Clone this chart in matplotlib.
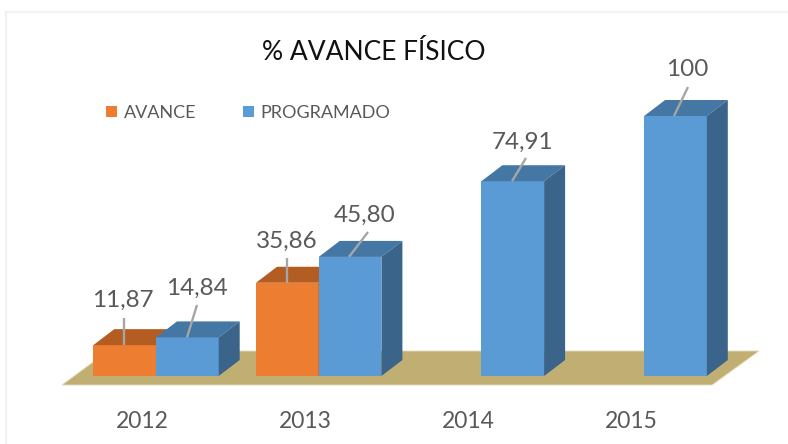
import matplotlib
matplotlib.use("Agg")
import matplotlib.pyplot as plt
from matplotlib.patches import Polygon, Patch
from matplotlib.lines import Line2D

years = ["2012", "2013", "2014", "2015"]
avance = [11.87, 35.86, None, None]
programado = [14.84, 45.80, 74.91, 100]
avance_labels = ["11,87", "35,86"]
programado_labels = ["14,84", "45,80", "74,91", "100"]

W, H = 788, 444
BASE_PX = 376
PX_PER_UNIT = 2.6
CAT_PX = 162.7
CAT0_PX = 156
BAR = 62.7 / CAT_PX
DX = 21 / CAT_PX
DY = 16 / PX_PER_UNIT

plt.rcParams["font.family"] = ["Lato", "DejaVu Sans"]
fig = plt.figure(figsize=(W / 100, H / 100), dpi=100, facecolor="white")
ax = fig.add_axes([0, (H - BASE_PX) / H, 1, BASE_PX / H])
ax.set_xlim(-CAT0_PX / CAT_PX, (W - CAT0_PX) / CAT_PX)
ax.set_ylim(0, BASE_PX / PX_PER_UNIT)
for s in ax.spines.values():
    s.set_visible(False)
ax.patch.set_alpha(0)


def px_x(p):
    return (p - CAT0_PX) / CAT_PX


def px_y(p):
    return (BASE_PX - p) / PX_PER_UNIT


# chart frame: only the left and top edges are visible in the reference
FRAME = "#f1f1f1"
fig.add_artist(Line2D([6 / W, 6 / W], [0, 1 - 12 / H], transform=fig.transFigure, color=FRAME, lw=1.6))
fig.add_artist(Line2D([6 / W, 1], [1 - 12 / H, 1 - 12 / H], transform=fig.transFigure, color=FRAME, lw=1.6))

# floor
ax.add_patch(Polygon([(px_x(62), px_y(385)), (px_x(712), px_y(385)),
                      (px_x(759), px_y(351)), (px_x(108), px_y(351))],
                     closed=True, fc="#c1ae72", ec="#e4dab4", lw=0.6, clip_on=False, zorder=1))


def bar3d(left, value, front, top, side, z):
    ax.bar(left, value, width=BAR, align="edge", color=front, linewidth=0, zorder=z)
    r = left + BAR
    ax.add_patch(Polygon([(left, value), (r, value), (r + DX, value + DY), (left + DX, value + DY)],
                         closed=True, fc=top, ec="none", zorder=z))
    ax.add_patch(Polygon([(r, 0), (r + DX, DY), (r + DX, value + DY), (r, value)],
                         closed=True, fc=side, ec="none", zorder=z))


ORANGE = ("#ed7d31", "#b35d23", "#8f4a1c")
BLUE = ("#5b9bd5", "#4477a4", "#3a6489")

for i, (a, p) in enumerate(zip(avance, programado)):
    z = 2 + i * 2
    if a is not None:
        bar3d(i - BAR, a, *ORANGE, z)
    bar3d(i, p, *BLUE, z + 1)

LEADER = "#a6a6a6"
TEXT = "#595959"


def callout(v, label, anchor_x, end, label_pos):
    ax.plot([px_x(anchor_x), px_x(end[0])], [v, px_y(end[1])], color=LEADER, lw=1.7, zorder=30,
            solid_capstyle="butt")
    ax.text(px_x(label_pos[0]), px_y(label_pos[1]), label, ha="center", va="center",
            fontsize=17.5, color=TEXT, zorder=31)


callout(avance[0], avance_labels[0], 124, (124, 318), (123, 300))
callout(programado[0], programado_labels[0], 187, (197, 305), (197, 288))
callout(avance[1], avance_labels[1], 287, (287, 258), (287, 241))
callout(programado[1], programado_labels[1], 349, (368, 232), (365, 215))
callout(programado[2], programado_labels[2], 512, (526, 158), (523, 142))
callout(programado[3], programado_labels[3], 674, (688, 87), (687, 70))

# category labels
ax.set_xticks([px_x(142), px_x(305), px_x(468), px_x(631)])
ax.set_xticklabels(years, fontsize=16.5, color=TEXT)
ax.set_yticks([])
ax.tick_params(axis="x", length=0, pad=25)

fig.text(374 / W, 1 - 53 / H, "% AVANCE FÍSICO", ha="center", va="center",
         fontsize=19, color="#111111")

handles = [Patch(fc=ORANGE[0], ec="none", label="AVANCE"),
           Patch(fc=BLUE[0], ec="none", label="PROGRAMADO")]
fig.legend(handles=handles, ncols=2, frameon=False, fontsize=13, labelcolor=TEXT,
           loc="center left", bbox_to_anchor=(106 / W, 1 - 113 / H),
           bbox_transform=fig.transFigure, borderpad=0, borderaxespad=0,
           handlelength=0.62, handleheight=0.62, handletextpad=0.35, columnspacing=2.6)

fig.savefig("out.png", dpi=100, facecolor="white")
